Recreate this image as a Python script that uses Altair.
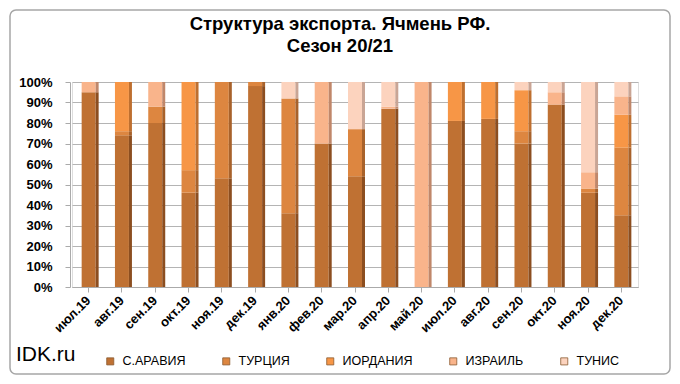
import altair as alt
import pandas as pd

months = ["июл.19", "авг.19", "сен.19", "окт.19", "ноя.19", "дек.19", "янв.20",
          "фев.20", "мар.20", "апр.20", "май.20", "июл.20", "авг.20", "сен.20",
          "окт.20", "ноя.20", "дек.20"]
countries = ["С.АРАВИЯ", "ТУРЦИЯ", "ИОРДАНИЯ", "ИЗРАИЛЬ", "ТУНИС"]
saudi   = [95, 74, 80, 46, 53, 98, 36, 70, 54, 87, 0, 81, 82, 70, 89, 46, 35]
turkey  = [0, 2, 8, 11, 47, 2, 56, 0, 23, 0, 0, 0, 0, 6, 0, 2, 33]
jordan  = [0, 24, 0, 43, 0, 0, 0, 0, 0, 0, 0, 19, 18, 20, 0, 0, 16]
israel  = [5, 0, 12, 0, 0, 0, 0, 30, 0, 1, 100, 0, 0, 0, 6, 8, 9]
tunisia = [0, 0, 0, 0, 0, 0, 8, 0, 23, 12, 0, 0, 0, 4, 5, 44, 7]
colors = ["#BF7133", "#DD8640", "#F79646", "#F9B48B", "#FCD3BE"]
side_colors = ["#8C4E20", "#A8622B", "#BE6F2F", "#C0876A", "#C9A595"]
title_lines = ["Структура экспорта. Ячмень РФ.", "Сезон 20/21"]
brand_text = ["IDK.ru"]

series = [saudi, turkey, jordan, israel, tunisia]
rows = []
for ci, (c, vals) in enumerate(zip(countries, series)):
    for m, v in zip(months, vals):
        rows.append({"month": m, "country": c, "value": v, "ord": ci})
df = pd.DataFrame(rows)

FONT = "Liberation Sans"

x_enc = alt.X("month:N", sort=months, title=None,
              scale=alt.Scale(paddingInner=0.58, paddingOuter=0.29),
              axis=alt.Axis(labelAngle=-45, labelAlign="right", labelBaseline="middle",
                            labelFont=FONT, labelFontWeight="bold", labelFontSize=13,
                            labelColor="#000", labelPadding=6, ticks=True, tickColor="#aaa",
                            tickSize=5, domainColor="#aaa", grid=False))
y_enc = alt.Y("value:Q", stack="normalize", title=None,
              scale=alt.Scale(domain=[0, 1]),
              axis=alt.Axis(format=".0%", values=[i / 10 for i in range(11)],
                            labelFont=FONT, labelFontWeight="bold", labelFontSize=13,
                            labelColor="#000", gridColor="#b4b4b4", gridWidth=1.2,
                            domainColor="#aaa", tickColor="#aaa", tickSize=5, offset=2,
                            labelPadding=13))

bars = alt.Chart(df).mark_bar().encode(
    x=x_enc, y=y_enc,
    color=alt.Color("country:N", sort=countries,
                    scale=alt.Scale(domain=countries, range=colors),
                    legend=alt.Legend(title=None, orient="none", direction="horizontal",
                                      legendX=32, legendY=273, symbolType="square",
                                      symbolSize=50, symbolStrokeColor="#8a5a30",
                                      symbolStrokeWidth=0.8, labelFont=FONT,
                                      labelFontSize=12.5, labelColor="#000",
                                      columnPadding=34, labelOffset=6)),
    order=alt.Order("ord:Q"),
)

sides = alt.Chart(df).mark_bar(width=3, xOffset=8.5).encode(
    x=x_enc, y=y_enc,
    color=alt.Color("country:N", sort=countries,
                    scale=alt.Scale(domain=countries, range=side_colors), legend=None),
    order=alt.Order("ord:Q"),
)

frame = alt.Chart(pd.DataFrame({"k": [0]})).mark_rect(
    fill="white", fillOpacity=0, stroke="#a6a6a6", strokeWidth=1.5, cornerRadius=6
).encode(x=alt.value(-62), x2=alt.value(598), y=alt.value(-72), y2=alt.value(292))

brand = alt.Chart(pd.DataFrame({"t": brand_text})).mark_text(
    font=FONT, fontSize=21, color="#000", align="left", baseline="middle"
).encode(x=alt.value(-56), y=alt.value(273), text="t:N")

title_df = pd.DataFrame({"t": title_lines, "i": [0, 1]})
title1 = alt.Chart(title_df).transform_filter("datum.i == 0").mark_text(
    font=FONT, fontSize=18.5, fontWeight="bold", color="#000",
    align="center", baseline="middle"
).encode(x=alt.value(268), y=alt.value(-58), text="t:N")
title2 = alt.Chart(title_df).transform_filter("datum.i == 1").mark_text(
    font=FONT, fontSize=18.5, fontWeight="bold", color="#000",
    align="center", baseline="middle"
).encode(x=alt.value(268), y=alt.value(-36), text="t:N")

chart = alt.layer(frame, bars, sides, brand, title1, title2).resolve_scale(
    color="independent"
).properties(
    width=566, height=205,
    autosize=alt.AutoSizeParams(type="none"),
    padding={"left": 64, "top": 74, "right": 34, "bottom": 89},
).configure_view(stroke=None).configure(background="white")

chart.save("out.html", embed_options={"renderer": "svg", "actions": False})
